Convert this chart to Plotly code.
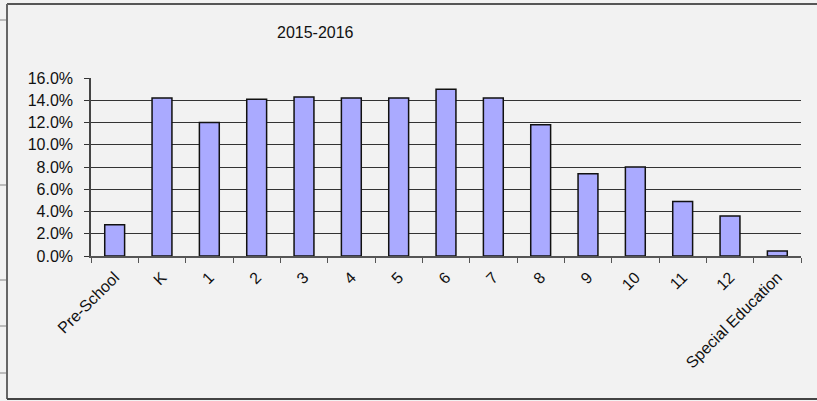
import plotly.graph_objects as go

categories = ["Pre-School", "K", "1", "2", "3", "4", "5", "6", "7", "8",
              "9", "10", "11", "12", "Special Education"]
values = [0.028, 0.142, 0.120, 0.141, 0.143, 0.142, 0.142, 0.150, 0.142,
          0.118, 0.074, 0.080, 0.049, 0.036, 0.0045]
y_ticks = [0.0, 0.02, 0.04, 0.06, 0.08, 0.10, 0.12, 0.14, 0.16]
title_text = "2015-2016"

W, H = 817, 401
L, R, T, B = 91, 16, 78, 145
pw, ph = W - L - R, H - T - B

def px(x):
    return (x - L) / pw

def py(y):
    return (H - B - y) / ph

font = "Liberation Sans, Arial, sans-serif"

fig = go.Figure(go.Bar(
    x=categories, y=values,
    marker=dict(color="#aaaaff", line=dict(color="#111111", width=1.5)),
))

shapes = [
    dict(type="line", xref="paper", yref="paper", x0=px(7), x1=px(830), y0=py(4), y1=py(4),
         line=dict(color="#222222", width=1.5)),
    dict(type="line", xref="paper", yref="paper", x0=px(7), x1=px(7), y0=py(4), y1=py(399),
         line=dict(color="#666666", width=2)),
    dict(type="line", xref="paper", yref="paper", x0=px(7), x1=px(830), y0=py(399), y1=py(399),
         line=dict(color="#444444", width=2)),
]
for yy in [20, 185, 280, 326, 373]:
    shapes.append(dict(type="line", xref="paper", yref="paper", x0=px(0), x1=px(6),
                       y0=py(yy), y1=py(yy), line=dict(color="#aaaaaa", width=1.5)))

fig.update_layout(
    width=W, height=H,
    margin=dict(l=L, r=R, t=T, b=B, pad=0),
    paper_bgcolor="#f2f2f2", plot_bgcolor="#f2f2f2",
    bargap=0.58,
    showlegend=False,
    font=dict(family=font, size=15, color="#111111"),
    shapes=shapes,
    annotations=[dict(text=title_text, xref="paper", yref="paper",
                      x=px(315), y=py(33), showarrow=False,
                      xanchor="center", yanchor="middle",
                      font=dict(family=font, size=16, color="#111111"))],
    xaxis=dict(
        type="category", tickangle=-45, tickson="boundaries",
        ticks="outside", ticklen=5, tickcolor="#555555",
        showline=True, linecolor="#555555", linewidth=1.5,
        showgrid=False, tickfont=dict(size=16), fixedrange=True,
        ticklabelstandoff=4,
    ),
    yaxis=dict(
        range=[0, 0.16], tickvals=y_ticks, tickformat=".1%",
        ticks="outside", ticklen=5, tickcolor="#333333",
        showline=True, linecolor="#444444", linewidth=1.5,
        showgrid=True, gridcolor="#333333", gridwidth=1,
        zeroline=False, tickfont=dict(size=16), fixedrange=True,
        ticklabelstandoff=8,
    ),
)

fig.write_html("out.html", config={"displayModeBar": False},
               post_script="document.body.style.margin='0px';")
